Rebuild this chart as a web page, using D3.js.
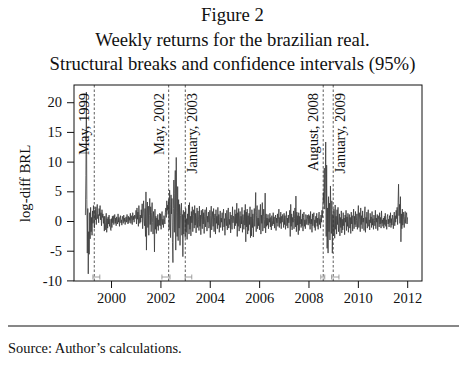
<!DOCTYPE html>
<html>
<head>
<meta charset="utf-8">
<script src="https://cdn.jsdelivr.net/npm/d3@7"></script>
<style>
  body { margin: 0; background: #fff; }
  svg { display: block; font-family: "Liberation Serif", "Times New Roman", serif; }
  text { fill: #111; }
</style>
</head>
<body>
<svg id="chart" width="465" height="377"></svg>
<script>
// titles
const titleLines = ["Figure 2", "Weekly returns for the brazilian real.", "Structural breaks and confidence intervals (95%)"];
const yLabel = "log-diff BRL";
const sourceNote = "Source: Author\u2019s calculations.";

// axis ticks
const yTicks = [-10, -5, 0, 5, 10, 15, 20];
const xTickYears = [2000, 2002, 2004, 2006, 2008, 2010, 2012];

// structural breaks + 95% confidence intervals
const breakDates  = ["1999-04-28", "2002-05-03", "2003-01-04", "2008-08-06", "2009-01-01"];
const breakLabels = ["May, 1999", "May, 2002", "January, 2003", "August, 2008", "January, 2009"];
const ciLower     = ["1999-04-08", "2002-01-23", "2003-01-02", "2008-07-01", "2008-12-08"];
const ciUpper     = ["1999-07-19", "2002-05-23", "2003-04-10", "2008-08-29", "2009-03-27"];
const labelSide   = ["left", "left", "right", "left", "right"];

// weekly log-diff of BRL, first week 1998-12-18
const firstWeek = "1998-12-18";
const r1999 = [1.0, 7.7, 21.7, 3.6, -5.4, 2.1, -8.9, -1.8, -5.6, 1.4,
  -3.0, 2.3, -1.8, 0.6, -2.4, 1.7, -0.4, 2.6, 0.3, -1.2,
  1.9, 0.2, 2.4, -0.6, 1.5, 2.8, 0.4, 1.1, -0.3, 2.1, 0.9, 2.6, 0.2, 1.4, -0.8, 1.9, 0.6, 1.2, -0.4, 0.8,
  -1.7, 0.8, -1.5, -0.2, 1.3, -1.9, 0.4, -1.2, 0.7, -0.5, 1.0, -0.9, 0.3, -1.4];
const r2000 = [-1.6, 0.4, -1.1, 0.8, -0.3, 0.9, -0.6, 0.2, 1.1, -0.4, 0.5, -0.8, 0.7, 0.1, -0.5, 1.2, -0.2, 0.6,
  -0.9, 0.4, 0.9, -0.3, 0.2, -0.7, 0.8, 0.3, -0.4, 1.0, -0.1, 0.5, -0.6, 0.3, 0.7, -0.2, 1.1, 0.2, -0.5, 0.8,
  -0.3, 0.6, 0.1, 1.3, -0.4, 0.9, 0.3, -0.6, 1.4, 0.2, 0.8, -0.2, 1.0, 0.4];
const r2001 = [0.6, 1.8, -0.5, 2.2, 0.3, 1.5, -0.9, 2.6, 0.8, -0.4, 1.0, -0.2,
  1.9, 0.5, 2.9, -1.3, 1.2, 3.4, 0.2, -0.8, 2.1, -2.6,
  4.9, -4.9, 1.7, 3.2, -1.1, 2.5, -2.4, 0.9, 3.8, -0.6,
  2.4, -1.8, 1.4, 3.1, -0.3, -2.2, 1.6, 0.4, -5.2, 2.0,
  -1.4, 0.8, -2.1, 0.5, -0.9, 1.1, -1.6, 0.2, -0.7, 1.3];
const r2002 = [-0.8, 1.2, -1.4, 0.5, 1.6, -0.6, 0.3, -1.1, 0.9, 0.2, -0.5, 1.4,
  2.2, 0.6, 3.4, 1.8, 2.7, 1.1, 3.6, -1.5, 5.2,
  2.3, -2.8, 4.4, 1.2, 3.8, -3.6, -7.0, 2.1, 6.9,
  -1.9, 4.6, 8.5, -4.9, 10.7, 1.5, -2.6, 5.8, -3.3, 3.6,
  -1.2, 2.8, -4.1, 0.9, 2.2, 3.0, -2.4, 1.1, -6.0, 1.8, -2.2, 0.6];
const r2003 = [1.5, -2.8, 2.1, -1.9, 0.4, -3.1, 1.2, -0.6, 2.7, -2.2, 3.1, -1.4, 0.8, -2.5, 1.6, -0.3, 2.4,
  -1.8, 0.9, 1.9, -1.2, 2.6, -0.7, 1.3, -2.0, 0.5, 2.2, -1.1, 1.7, 0.3, -1.6, 2.5, -0.9, 1.0, -2.3, 1.8,
  0.2, -1.3, 2.0, -0.5, 1.4, -2.1, 0.7, 1.9, -1.0, 0.4, 2.3, -1.7, 0.8, -0.2, 1.5, -1.2];
const r2004 = [-0.6, 1.8, -2.8, 0.9, 2.5, -1.5, 0.3, 1.6, -0.9, 2.1, -1.8, 0.6, 1.2, -2.2, 1.9, -0.4, 0.8,
  -1.3, 2.3, -0.7, 1.1, -1.9, 0.2, 1.7, -1.1, 0.5, -0.2, 1.4, -1.6, 0.9, 2.0, -1.0, 0.4, -2.4, 1.3, 0.1,
  -0.8, 1.8, -1.5, 0.7, 2.2, -1.2, 0.3, -0.6, 1.5, -2.0, 1.0, 0.2, -1.4, 2.4, -0.3, 0.8];
const r2005 = [0.6, -1.3, 1.9, -0.8, 1.2, -0.4, 3.0, -2.6, 1.4, -0.9, 2.1, -1.7, 0.5, 1.6, -1.2, 0.8,
  -0.5, 2.3, -1.9, 1.1, 0.2, -1.4, 1.8, -0.7, 2.8, -3.5, 1.5, -1.0, 2.0, -2.2, 0.9, -1.6, 1.3, -0.6,
  2.4, -2.8, 0.7, -2.5, 1.9, -1.1, 1.2, -2.7, 0.4, 2.1, -0.9, 1.6, 4.8, -1.8, 0.9, 2.6, -1.3, 0.5];
const r2006 = [-0.8, 1.9, -1.5, 0.6, 2.8, -2.2, 1.0, -0.4, 3.1, -1.7, 0.8, 2.0, -1.2,
  0.3, 4.7, -2.0, 1.2, -0.9, 0.5,
  -0.7, 1.1, -1.3, 0.4, -0.2, 1.3, -1.0, 0.6, -1.5, 0.9, 0.1, -0.8, 1.4, -0.5, 0.7, -1.2, 0.3, 1.0,
  -1.6, 0.5, -0.3, 1.2, -0.9, 0.2, 2.0, -1.1, 0.6, -0.4, 1.5, -1.3, 0.8, -0.2, 1.1];
const r2007 = [0.4, -1.1, 1.3, -0.6, 0.9, -1.4, 0.2, 1.6, -0.8, 0.5, -1.2, 1.0, -0.3, 0.7, 1.8,
  -2.6, 2.8, -0.9, 1.2, -1.5, 0.6, -0.2, 1.7, -1.3, 0.4, 2.2, -1.0, 4.2, -1.8, 1.5, -0.7, 0.9,
  -2.3, 1.4, -1.6, 0.8, -0.5, 1.9, -1.1, 0.3, -0.8, 1.2, -1.7, 0.6, 1.5, -0.9, 0.2, -1.3, 1.1, 0.4, -0.6, 1.0];
const r2008 = [0.3, -0.7, 1.1, -0.4,
  0.9, -1.4, 1.6, -0.5, 0.3, -1.9, 1.2, -0.8, 0.6, 1.4, -1.1, 0.2, -1.6, 0.8, -0.3, 1.3, -0.9, 0.5,
  -1.4, 0.7, 1.5, -0.6, 0.4, -1.2, 1.0, -0.2, 1.8,
  0.6, 2.4, 4.8, 3.1, 8.9, 2.0, 5.4, 13.3, -2.6, 9.4, -4.6, 2.2, -5.4, 4.1, -1.8, 3.0, -3.2, 5.9,
  0.8, -2.1, 3.4, -5.4, 1.1, -2.5, 2.0];
const r2009 = [1.6, -2.9, 2.7, -1.4, 0.8, -2.2, 1.9, -0.6, 2.3, -1.8, -0.4, 1.2, -2.5, 0.6, -1.1, 1.7,
  -2.0, 0.3, -1.5, 1.4, -0.8, 0.5, -2.3, 1.0, -0.2, 1.8, -1.6, 0.7, -0.9, 1.3, -1.9, 0.2, 1.1, -1.2,
  0.6, -2.1, 1.5, -0.5, 0.9, -1.7, 0.4, 2.0, -1.3, 0.8, -0.6, 1.6, -1.0, 0.1, 1.2, -1.4, 0.7, 2.6];
const r2010 = [-1.1, 1.4, 0.3, -1.8, 2.2, -0.6, 0.9, -1.3, 1.7, -0.2, 0.5, -1.6, 1.2, 2.4, -1.9, 0.6,
  -0.4, 1.5, -1.2, 0.8, 1.9, -0.9, 0.2, -1.5, 1.3, -0.3, 0.7, -1.1, 1.6, -0.7, 0.4, -1.4, 1.0, 0.1,
  -0.8, 1.8, -1.3, 0.5, -0.2, 1.1, -1.6, 0.9, 0.3, -1.0, 1.4, -0.5, 0.6, -1.2, 1.7, -0.4, 0.2, -0.9];
const r2011 = [0.5, -1.2, 0.8, -0.6, 1.3, -0.9, 0.2, -1.4, 0.7, 1.1, -0.5, 0.3, -1.0, 0.9, -0.3, 1.4,
  -1.1, 0.4, -0.7, 1.0, 0.2, -1.3, 0.6, 1.5, -0.8, 0.9, -0.2, 1.8, 0.4, 2.3,
  -0.6, 3.1, 6.2, 0.9, 2.8, -0.4, 4.1, -3.5, 1.2, -1.3, 2.0, -0.7, 1.5, 0.3, -1.1, 0.8, 1.6, -0.4,
  0.9, 1.4, -0.5, 0.6];

const returns = [].concat(r1999, r2000, r2001, r2002, r2003, r2004, r2005, r2006,
  r2007, r2008, r2009, r2010, r2011);

const parse = d3.timeParse("%Y-%m-%d");
const week0 = parse(firstWeek);
const series = returns.map((v, i) => ({ date: d3.timeWeek.offset(week0, i), value: v }));

const svg = d3.select("#chart");
const box = { left: 74, right: 422, top: 85, bottom: 281 };

const x = d3.scaleTime()
  .domain([new Date(1998, 6, 2), new Date(2012, 7, 7)])
  .range([box.left, box.right]);
const y = d3.scaleLinear()
  .domain([-10.1, 22.9])
  .range([box.bottom, box.top]);

// title
svg.append("g").selectAll("text")
  .data(titleLines)
  .enter().append("text")
  .attr("x", 232.5)
  .attr("y", (d, i) => 21 + i * 24.5)
  .attr("text-anchor", "middle")
  .style("font-size", "18.7px")
  .text(d => d);

// axes
const yAxis = d3.axisLeft(y).tickValues(yTicks).tickSize(7).tickPadding(5)
  .tickFormat(d3.format("d"));
const gy = svg.append("g").attr("transform", `translate(${box.left},0)`).call(yAxis);

const xAxis = d3.axisBottom(x)
  .tickValues(xTickYears.map(yr => new Date(yr, 0, 1)))
  .tickSize(7).tickPadding(5)
  .tickFormat(d3.timeFormat("%Y"));
const gx = svg.append("g").attr("transform", `translate(0,${box.bottom})`).call(xAxis);

[gx, gy].forEach(g => {
  g.select(".domain").remove();
  g.selectAll(".tick line").attr("stroke", "#111").attr("stroke-width", 1);
  g.selectAll(".tick text")
    .style("font-family", '"Liberation Serif", serif')
    .style("font-size", "14.5px")
    .attr("fill", "#111");
});
gy.selectAll(".tick text").text(d => d < 0 ? "-" + Math.abs(d) : d);

svg.append("text")
  .attr("transform", `translate(30,183.5) rotate(-90)`)
  .attr("text-anchor", "middle")
  .style("font-size", "14.8px")
  .text(yLabel);

// series
const line = d3.line()
  .x(d => x(d.date))
  .y(d => y(d.value));

svg.append("path")
  .datum(series)
  .attr("fill", "none")
  .attr("stroke", "#3a3a3a")
  .attr("stroke-width", 0.8)
  .attr("stroke-linejoin", "round")
  .attr("d", line);

// breaks
const breaks = breakDates.map((d, i) => ({
  date: parse(d), label: breakLabels[i], lo: parse(ciLower[i]), hi: parse(ciUpper[i]), side: labelSide[i]
}));

const gb = svg.append("g");
gb.selectAll("line.break")
  .data(breaks).enter().append("line")
  .attr("class", "break")
  .attr("x1", d => x(d.date)).attr("x2", d => x(d.date))
  .attr("y1", box.top).attr("y2", box.bottom)
  .attr("stroke", "#333").attr("stroke-width", 0.8)
  .attr("stroke-dasharray", "2.5,2");

gb.selectAll("text.break")
  .data(breaks).enter().append("text")
  .attr("class", "break")
  .attr("transform", d => `translate(${x(d.date) + (d.side === "left" ? -5 : 12)},93) rotate(-90)`)
  .attr("text-anchor", "end")
  .style("font-size", "14.5px")
  .text(d => d.label);

// confidence intervals
const ciY = box.bottom - 4;
const ci = gb.selectAll("g.ci").data(breaks).enter().append("g")
  .attr("class", "ci")
  .attr("stroke", "#888").attr("stroke-width", 0.8);
ci.append("line")
  .attr("x1", d => x(d.lo)).attr("x2", d => x(d.hi))
  .attr("y1", ciY).attr("y2", ciY);
ci.append("line")
  .attr("x1", d => x(d.lo)).attr("x2", d => x(d.lo))
  .attr("y1", ciY - 2.5).attr("y2", ciY + 2.5);
ci.append("line")
  .attr("x1", d => x(d.hi)).attr("x2", d => x(d.hi))
  .attr("y1", ciY - 2.5).attr("y2", ciY + 2.5);

// frame
svg.append("rect")
  .attr("x", box.left).attr("y", box.top)
  .attr("width", box.right - box.left).attr("height", box.bottom - box.top)
  .attr("fill", "none").attr("stroke", "#111").attr("stroke-width", 1);

// footer
svg.append("line")
  .attr("x1", 8).attr("x2", 459).attr("y1", 326).attr("y2", 326)
  .attr("stroke", "#111").attr("stroke-width", 1.2);
svg.append("text")
  .attr("x", 8).attr("y", 353)
  .style("font-size", "14.4px")
  .text(sourceNote);
</script>
</body>
</html>
